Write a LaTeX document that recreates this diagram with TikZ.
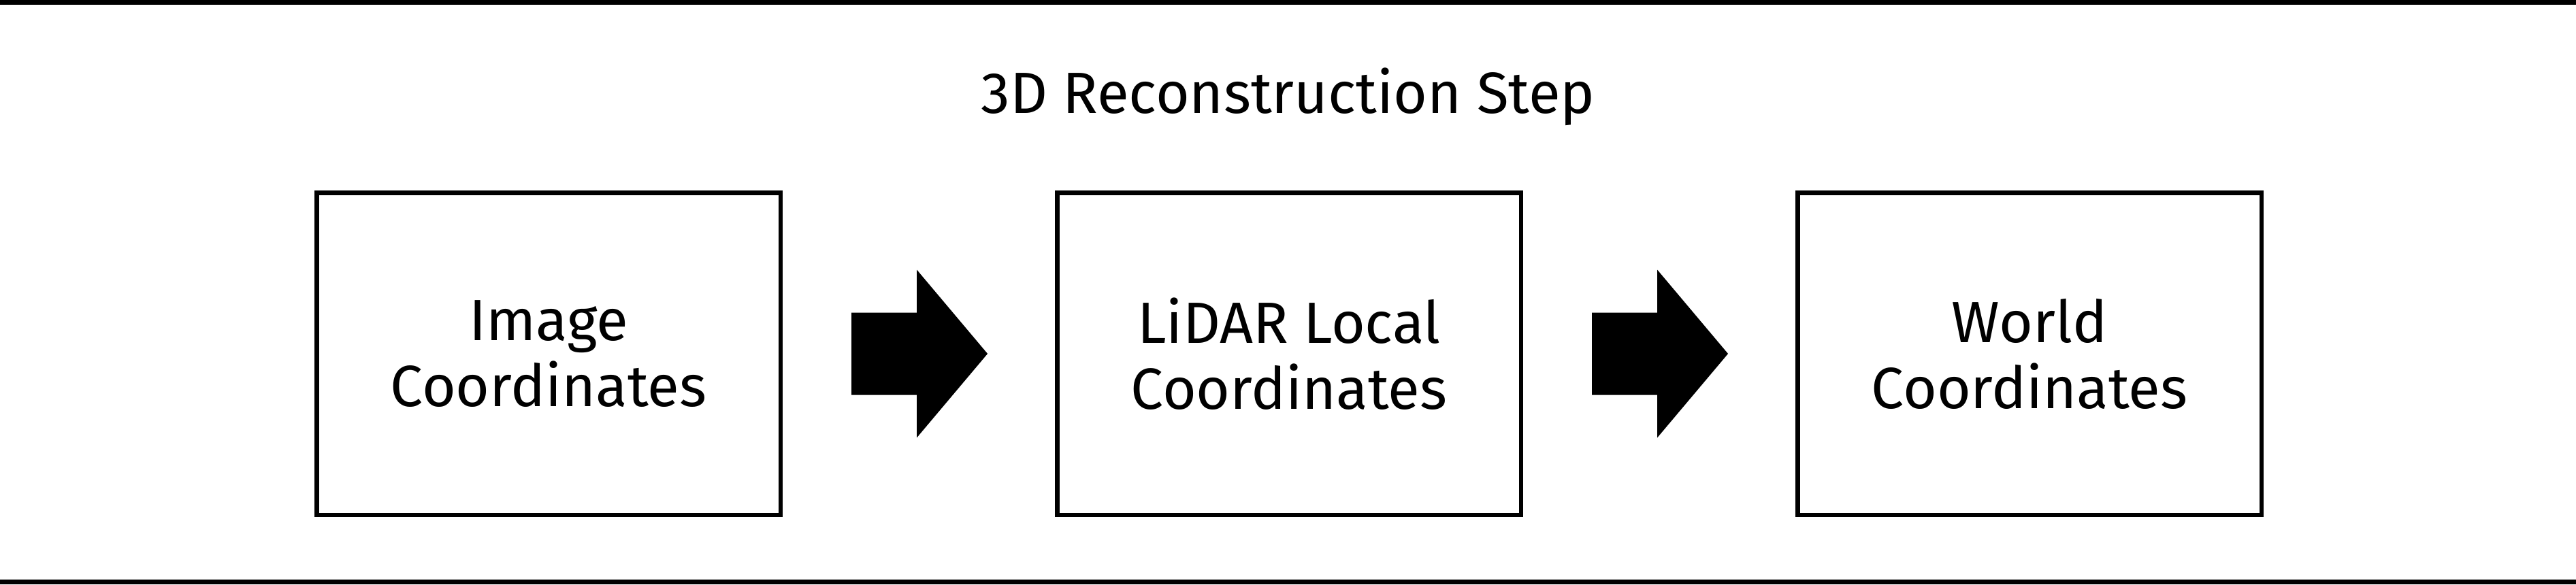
\documentclass[tikz,border=0pt]{standalone}
\usepackage{fontspec}
\setmainfont{Fira Sans}
\usetikzlibrary{positioning,calc}
\tikzset{
  stagebox/.style={draw, line width=1.3pt, minimum width=136.3pt, minimum height=94.7pt, align=center, inner sep=0pt},
  sepline/.style={line width=1.4pt},
}
\begin{document}
\begin{tikzpicture}[font=\fontsize{17.1pt}{19.4pt}\selectfont, node distance=80pt]
  \useasboundingbox (0,0) rectangle (757pt,171.8pt);
  \draw[sepline] (0,171.1pt) -- (757pt,171.1pt);
  \draw[sepline] (0,0.7pt) -- (757pt,0.7pt); % bottom line
  \node[anchor=base] (title) at (378.5pt,138.4pt) {3D Reconstruction Step};
  \node[stagebox] (img) at (161.2pt,67.8pt) {Image\\Coordinates};
  \node[stagebox, right=of img] (lidar) {LiDAR Local\\Coordinates};
  \node[stagebox, right=of lidar] (world) {World\\Coordinates};
  % block arrows between the boxes
  \foreach \a/\b in {img/lidar,lidar/world}
    \fill ($(\a.east)+(20.2pt,12.1pt)$) -- ++(19.2pt,0) -- ++(0,12.6pt)
      -- ($(\b.west)+(-19.8pt,0)$) -- ($(\a.east)+(39.4pt,-24.7pt)$)
      -- ++(0,12.6pt) -- ($(\a.east)+(20.2pt,-12.1pt)$) -- cycle;
\end{tikzpicture}
\end{document}
